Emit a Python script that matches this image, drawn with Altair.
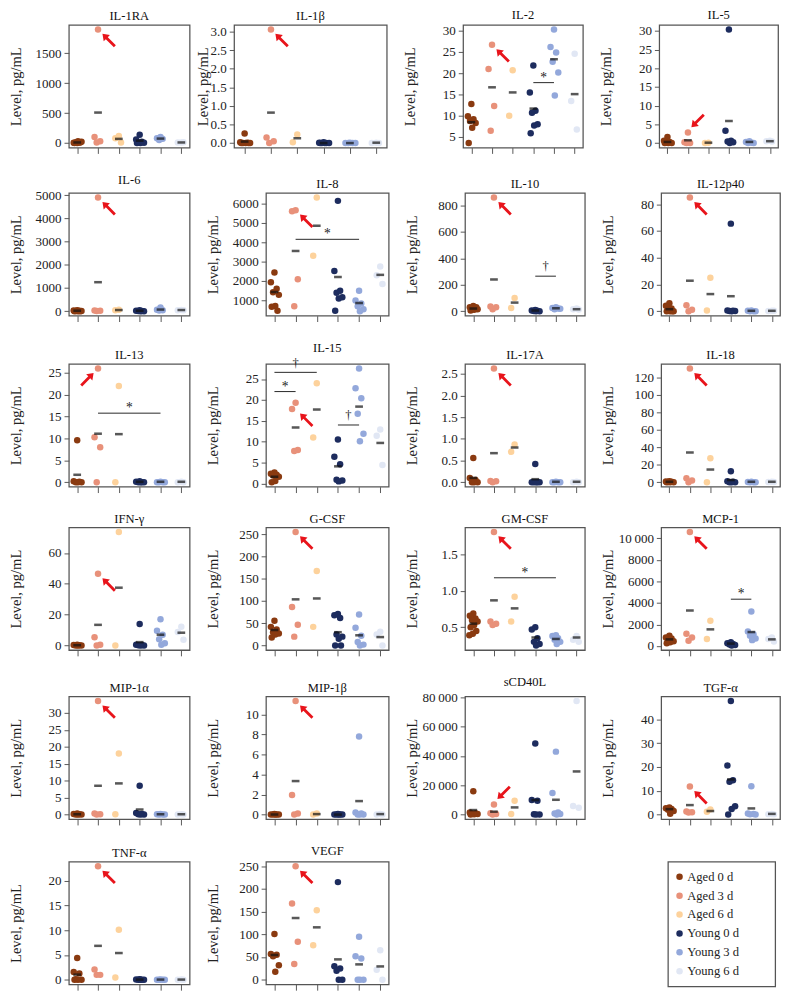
import altair as alt
import pandas as pd

groups = ["Aged 0 d", "Aged 3 d", "Aged 6 d", "Young 0 d", "Young 3 d", "Young 6 d"]
colors = ["#8A3A10", "#E8917A", "#FDD29C", "#1D2C5E", "#93A8DB", "#E1E7F4"]

# ---- values: points per group, group means, tick values ----
il1ra_pts = [[0, 5, 10, 15, 20, 30, 0, 8], [1900, 100, 30, 10], [120, 80, 10],
             [140, 60, 20, 10, 5, 0, 0], [100, 80, 70, 50], [10, 8, 12]]
il1ra_mean = [10, 510, 70, 40, 75, 10]
il1ra_ticks = [0, 500, 1000, 1500]

il1b_pts = [[0.26, 0.02, 0.01, 0, 0, 0, 0, 0], [3.06, 0.15, 0.05, 0.0], [0.23, 0.02],
            [0.02, 0.01, 0, 0, 0, 0, 0], [0.01, 0, 0, 0, 0], [0.01, 0, 0]]
il1b_mean = [0.04, 0.82, 0.13, 0.0, 0.0, 0.01]
il1b_ticks = [0.0, 0.5, 1.0, 1.5, 2.0, 2.5, 3.0]

il2_pts = [[12.8, 9.9, 9.2, 8.8, 8.3, 7.2, 3.6], [26.7, 21.0, 12.3, 6.5], [20.7, 10.0],
           [21.8, 15.5, 11.2, 10.7, 8.0, 7.7, 5.9], [30.3, 26.2, 24.9, 22.7, 20.2, 14.8],
           [24.6, 13.5, 6.8]]
il2_mean = [8.5, 16.7, 15.5, 11.7, 23.3, 15.1]
il2_ticks = [5, 10, 15, 20, 25, 30]
il2_sig = [(4, 5, 17.8, "*")]

il5_pts = [[1.6, 0.6, 0.3, 0.1, 0, 0, 0], [2.8, 0.2, 0, 0], [0.1, 0],
           [30.4, 3.3, 0.6, 0.4, 0.2, 0], [0.5, 0.3, 0.1, 0, 0], [0.6, 0.5, 0.4]]
il5_mean = [0.3, 0.75, 0.1, 5.9, 0.3, 0.5]
il5_ticks = [0, 5, 10, 15, 20, 25, 30]

il6_pts = [[40, 30, 20, 10, 5, 0, 0, 0], [4900, 30, 20, 10], [60, 40],
           [40, 20, 10, 5, 0, 0], [160, 60, 40, 30], [50, 40, 45]]
il6_mean = [20, 1250, 50, 20, 70, 50]
il6_ticks = [0, 1000, 2000, 3000, 4000, 5000]

il8_pts = [[2440, 1940, 1610, 1420, 1290, 720, 680, 470], [5650, 5600, 2090, 700], [6300, 3300],
           [6130, 2520, 1500, 1400, 1170, 1100, 470], [1500, 1000, 850, 700, 550, 450],
           [2750, 2300, 1850]]
il8_mean = [1440, 3550, 4850, 2210, 870, 2320]
il8_ticks = [1000, 2000, 3000, 4000, 5000, 6000]
il8_sig = [(2, 5, 4150, "*")]

il10_pts = [[40, 30, 25, 20, 15, 10, 5, 30], [860, 35, 30, 15], [100, 25],
            [10, 5, 3, 2, 0, 0], [30, 25, 20, 15, 18], [20, 15, 12]]
il10_mean = [20, 240, 65, 5, 22, 15]
il10_ticks = [0, 200, 400, 600, 800]
il10_sig = [(4, 5, 265, "†")]

il12_pts = [[6, 4, 2, 1, 0, 0, 0, 0], [85, 4.5, 1, 0], [25, 0.5],
            [65.5, 0.5, 0.3, 0.2, 0.1, 0], [0.5, 0.3, 0, 0, 0], [0.3, 0.2, 0.4]]
il12_mean = [1.5, 22.8, 12.8, 11.2, 0.3, 0.3]
il12_ticks = [0, 20, 40, 60, 80]

il13_pts = [[9.6, 0.2, 0.1, 0, 0, 0], [26, 10.3, 8.0, 0], [22, 0],
            [0.2, 0.1, 0, 0, 0, 0], [0.1, 0, 0, 0, 0], [0.1, 0, 0]]
il13_mean = [1.7, 11.1, 11.0, 0.1, 0.1, 0.1]
il13_ticks = [0, 5, 10, 15, 20, 25]
il13_sig = [(2, 5, 15.8, "*")]

il15_pts = [[2.6, 2.3, 2.1, 1.9, 1.6, 0.6, 0.3], [19.3, 17.8, 8.0, 7.8], [24.0, 11.0],
            [10.5, 6.4, 4.6, 0.9, 0.7, 0.5], [27.5, 22.8, 20.4, 16.7, 11.9, 10.1],
            [12.9, 11.4, 4.4]]
il15_mean = [1.6, 13.4, 17.7, 4.1, 18.4, 9.7]
il15_ticks = [0, 5, 10, 15, 20, 25]
il15_sig = [(1, 2, 22.0, "*"), (1, 3, 26.6, "†"), (4, 5, 14.0, "†")]

il17_pts = [[0.56, 0.1, 0.05, 0, 0, 0], [2.62, 0.03, 0.02, 0], [0.87, 0.70],
            [0.42, 0, 0, 0, 0, 0], [0.01, 0, 0, 0, 0], [0.01, 0, 0]]
il17_mean = [0.1, 0.67, 0.8, 0.07, 0.01, 0.01]
il17_ticks = [0.0, 0.5, 1.0, 1.5, 2.0, 2.5]

il18_pts = [[1, 0.8, 0.5, 0.3, 0, 0, 0], [130, 4.5, 2, 0], [27.5, 0],
            [12.5, 1, 0.5, 0, 0, 0], [0.5, 0.2, 0, 0, 0], [0.5, 0.3, 0.2]]
il18_mean = [0.5, 34, 14.5, 2.5, 0.5, 0.5]
il18_ticks = [0, 20, 40, 60, 80, 100, 120]

ifng_pts = [[0.5, 0.3, 0.2, 0, 0, 0], [46.5, 5.4, 0.5, 0], [73.7, 0],
            [14, 0.5, 0.3, 0.2, 0, 0], [17, 9.5, 7, 4, 1.5, 0.5], [12.2, 8.8, 3.8]]
ifng_mean = [0.2, 13.4, 37.5, 2.2, 7.0, 8.3]
ifng_ticks = [0, 20, 40, 60]

gcsf_pts = [[55.6, 42, 36, 30, 27, 25, 18], [256, 87, 47, 20], [168, 42],
            [71, 68, 62, 25, 20, 15, 0, 0], [70, 40, 22, 8, 2, 0], [31, 25, 0]]
gcsf_mean = [35, 104, 106, 30, 23, 19]
gcsf_ticks = [0, 50, 100, 150, 200, 250]

gmcsf_pts = [[0.69, 0.66, 0.62, 0.60, 0.58, 0.53, 0.50, 0.45, 0.41, 0.39],
             [1.81, 0.58, 0.55, 0.53], [0.92, 0.58],
             [0.50, 0.47, 0.35, 0.30, 0.27, 0.25], [0.39, 0.38, 0.35, 0.33, 0.30, 0.27],
             [0.38, 0.33, 0.30]]
gmcsf_mean = [0.55, 0.87, 0.76, 0.36, 0.34, 0.36]
gmcsf_ticks = [0.5, 1.0, 1.5]
gmcsf_sig = [(2, 5, 1.18, "*")]

mcp1_pts = [[950, 800, 700, 550, 450, 350, 250], [10600, 1150, 800, 500], [2350, 650],
            [350, 250, 200, 150, 100, 50], [3200, 1350, 1100, 950, 700, 550], [800, 650, 420]]
mcp1_mean = [620, 3300, 1550, 230, 1300, 620]
mcp1_ticks = [0, 2000, 4000, 6000, 8000, 10000]
mcp1_sig = [(4, 5, 4350, "*")]

mip1a_pts = [[0.3, 0.2, 0.1, 0, 0, 0], [33.5, 0.3, 0.1, 0], [18, 0.1],
             [8.5, 0.5, 0.2, 0.1, 0, 0], [0.2, 0.1, 0, 0, 0], [0.1, 0, 0]]
mip1a_mean = [0.1, 8.5, 9.2, 1.5, 0.1, 0.1]
mip1a_ticks = [0, 5, 10, 15, 20, 25, 30]

mip1b_pts = [[0.05, 0, 0, 0, 0, 0], [11.35, 1.95, 0.1, 0], [0.1, 0],
             [0.05, 0, 0, 0, 0, 0], [7.8, 0.2, 0.1, 0, 0, 0], [0.05, 0, 0]]
mip1b_mean = [0.0, 3.35, 0.05, 0.0, 1.35, 0.05]
mip1b_ticks = [0, 2, 4, 6, 8, 10]

scd40l_pts = [[16000, 1500, 1000, 800, 500, 300, 200], [7000, 1000, 500, 100], [9600, 500],
              [48500, 10000, 9500, 300, 200, 100], [43000, 14800, 1500, 800, 500, 200],
              [77500, 6000, 4800]]
scd40l_mean = [3200, 2100, 5000, 10000, 10200, 29500]
scd40l_ticks = [0, 20000, 40000, 60000, 80000]

tgfa_pts = [[3.0, 2.7, 2.4, 2.0, 1.5, 0.4], [11.8, 1.3, 1.0, 0.9], [2.2, 1.2],
            [47.8, 20.7, 14.5, 13.8, 3.5, 2.4, 0], [11.9, 0.5, 0.3, 0.1, 0], [0.3, 0.2, 0.1]]
tgfa_mean = [2.3, 4.0, 1.5, 14.8, 2.6, 0.3]
tgfa_ticks = [0, 10, 20, 30, 40]

tnfa_pts = [[4.4, 1.6, 1.3, 0.1, 0, 0, 0], [22.9, 2.1, 1.0, 1.0], [10.1, 0.45],
            [0.1, 0.05, 0, 0, 0, 0], [0.05, 0, 0, 0, 0], [0.05, 0, 0]]
tnfa_mean = [1.05, 6.85, 5.4, 0.05, 0.05, 0.05]
tnfa_ticks = [0, 5, 10, 15, 20]

vegf_pts = [[101, 57, 55, 52, 32, 18], [250, 168, 84, 35], [153, 76],
            [215, 30, 25, 20, 0, 0], [95, 52, 47, 0, 0, 0], [65, 22, 0]]
vegf_mean = [54.5, 136, 115.5, 45, 34, 29.5]
vegf_ticks = [0, 50, 100, 150, 200, 250]

# (title, points, means, ticks, format, highlighted Aged-3-d value, arrow direction, significance)
panels = [
    ("IL-1RA", il1ra_pts, il1ra_mean, il1ra_ticks, "d", 1900, "ul", []),
    ("IL-1β", il1b_pts, il1b_mean, il1b_ticks, ".1f", 3.06, "ul", []),
    ("IL-2", il2_pts, il2_mean, il2_ticks, "d", 26.7, "ul", il2_sig),
    ("IL-5", il5_pts, il5_mean, il5_ticks, "d", 2.8, "dl", []),
    ("IL-6", il6_pts, il6_mean, il6_ticks, "d", 4900, "ul", []),
    ("IL-8", il8_pts, il8_mean, il8_ticks, "d", 5650, "ul", il8_sig),
    ("IL-10", il10_pts, il10_mean, il10_ticks, "d", 860, "ul", il10_sig),
    ("IL-12p40", il12_pts, il12_mean, il12_ticks, "d", 85, "ul", []),
    ("IL-13", il13_pts, il13_mean, il13_ticks, "d", 26, "ur", il13_sig),
    ("IL-15", il15_pts, il15_mean, il15_ticks, "d", 17.8, "ul", il15_sig),
    ("IL-17A", il17_pts, il17_mean, il17_ticks, ".1f", 2.62, "ul", []),
    ("IL-18", il18_pts, il18_mean, il18_ticks, "d", 130, "ul", []),
    ("IFN-γ", ifng_pts, ifng_mean, ifng_ticks, "d", 46.5, "ul", []),
    ("G-CSF", gcsf_pts, gcsf_mean, gcsf_ticks, "d", 256, "ul", []),
    ("GM-CSF", gmcsf_pts, gmcsf_mean, gmcsf_ticks, ".1f", 1.81, "ul", gmcsf_sig),
    ("MCP-1", mcp1_pts, mcp1_mean, mcp1_ticks, "d", 10600, "ul", mcp1_sig),
    ("MIP-1α", mip1a_pts, mip1a_mean, mip1a_ticks, "d", 33.5, "ul", []),
    ("MIP-1β", mip1b_pts, mip1b_mean, mip1b_ticks, "d", 11.35, "ul", []),
    ("sCD40L", scd40l_pts, scd40l_mean, scd40l_ticks, "d", 7000, "dl", []),
    ("TGF-α", tgfa_pts, tgfa_mean, tgfa_ticks, "d", 11.8, "ul", []),
    ("TNF-α", tnfa_pts, tnfa_mean, tnfa_ticks, "d", 22.9, "ul", []),
    ("VEGF", vegf_pts, vegf_mean, vegf_ticks, "d", 250, "ul", []),
]

FONT = "Liberation Serif"
RED = "#E8141B"
PANEL_H = 127
COL_W = [125, 127, 124, 123]
EXTENT = 44
SPACING = 15
ARROW = "M0,-1L0.5,-0.3L0.16,-0.3L0.16,1L-0.16,1L-0.16,-0.3L-0.5,-0.3Z"
ARROW_STYLE = {"ul": (315, 11, 11), "dl": (225, 10, -12), "ur": (45, -11, 11)}
LABEL_EXPR = ("datum.value >= 10000 ? replace(format(datum.value, ','), ',', '\u2009') "
              ": datum.label")
COLOR = alt.Color("group:N", scale=alt.Scale(domain=groups, range=colors), legend=None)


def make_panel(title, pts, means, ticks, fmt, arrow_val, arrow_dir, sigs, width, extent):
    rows = []
    for gi, vals in enumerate(pts, start=1):
        for k, v in enumerate(vals):
            rows.append({"group": groups[gi - 1], "gi": gi, "k": k, "value": v})
    pdf = pd.DataFrame(rows)
    mdf = pd.DataFrame({"gi": list(range(1, 7)), "mean": means})
    allv = list(pdf["value"]) + list(means) + [s[2] for s in sigs]
    lo, hi = min(allv), max(allv)
    pad = 0.04 * (hi - lo)
    ys = alt.Scale(domain=[lo - pad, hi + pad], nice=False, zero=False)
    xs = alt.Scale(domain=[0.6, 6.4], nice=False, zero=False)
    yax = alt.Axis(values=ticks, format=fmt, labelExpr=LABEL_EXPR, title="Level, pg/mL",
                   grid=False, domain=False, tickSize=5, labelPadding=3, titlePadding=3,
                   minExtent=extent, maxExtent=extent)
    xax = alt.Axis(values=[1, 2, 3, 4, 5, 6], labels=False, title=None, grid=False,
                   domain=False, tickSize=6, minExtent=7, maxExtent=7)

    def X(f):
        return alt.X(f, type="quantitative", scale=xs, axis=xax)

    def Y(f):
        return alt.Y(f, type="quantitative", scale=ys, axis=yax)

    layers = []
    layers.append(
        alt.Chart(pdf)
        .transform_calculate(jx="datum.gi + ((datum.k * 0.618 + 0.5) % 1 - 0.5) * 0.44")
        .mark_circle(size=45, opacity=1)
        .encode(x=X("jx"), y=Y("value"), color=COLOR)
    )
    layers.append(
        alt.Chart(mdf).mark_tick(orient="horizontal", color="#111111", size=8, thickness=2.6)
        .encode(x=X("gi"), y=Y("mean"))
    )
    if sigs:
        sdf = pd.DataFrame({"x1": [s[0] for s in sigs], "x2": [s[1] for s in sigs],
                            "xm": [(s[0] + s[1]) / 2 for s in sigs],
                            "y": [s[2] for s in sigs], "lab": [s[3] for s in sigs]})
        layers.append(
            alt.Chart(sdf).mark_rule(color="#222222", strokeWidth=1)
            .encode(x=X("x1"), x2="x2", y=Y("y"))
        )
        star = sdf[sdf["lab"] == "*"]
        dag = sdf[sdf["lab"] != "*"]
        if len(star):
            layers.append(
                alt.Chart(star).mark_text(font=FONT, fontSize=14, baseline="alphabetic",
                                          dy=-1, color="#222222", fill="#222222")
                .encode(x=X("xm"), y=Y("y"), text="lab")
            )
        if len(dag):
            layers.append(
                alt.Chart(dag).mark_text(font=FONT, fontSize=13, baseline="alphabetic",
                                         dy=-6, color="#222222", fill="#222222")
                .encode(x=X("xm"), y=Y("y"), text="lab")
            )
    ang, ox, oy = ARROW_STYLE[arrow_dir]
    adf = pd.DataFrame({"gi": [2], "v": [arrow_val]})
    layers.append(
        alt.Chart(adf).mark_point(shape=ARROW, filled=True, color=RED, fill=RED, opacity=1,
                                  strokeWidth=0, size=330, angle=ang, xOffset=ox, yOffset=oy)
        .encode(x=X("gi"), y=Y("v"))
    )
    return alt.layer(*layers).properties(
        width=width, height=PANEL_H,
        title=alt.TitleParams(title, font=FONT, fontSize=13, fontWeight="normal",
                              color="#111111", offset=2))


charts = []
for i, p in enumerate(panels):
    col = i % 4
    w = COL_W[col]
    ext = EXTENT
    if p[0] == "IL-1β":
        w, ext = 158, 22
    charts.append(make_panel(*p, width=w, extent=ext))

# legend panel (drawn from the group list through a point scale)
gdf = pd.DataFrame({"group": groups})
LEG_Y = alt.Y("group:N", scale=alt.Scale(domain=groups, type="point", padding=0.8),
              axis=alt.Axis(labels=False, ticks=False, domain=False, title=None,
                            minExtent=72, maxExtent=72))
leg_dots = alt.Chart(gdf).mark_circle(size=45, opacity=1).encode(
    x=alt.value(12), y=LEG_Y, color=COLOR)
leg_text = alt.Chart(gdf).mark_text(font=FONT, fontSize=13, align="left", baseline="middle",
                                    color="#222222").encode(
    x=alt.value(20), y=LEG_Y, text="group:N")
legend_box = alt.layer(leg_dots, leg_text).properties(
    width=111, height=PANEL_H + 2,
    title=alt.TitleParams(" ", font=FONT, fontSize=13, offset=0))

spacer = (alt.Chart(gdf).mark_point(opacity=0)
          .encode(y=alt.Y("group:N", axis=None))
          .properties(width=185, height=PANEL_H, view=alt.ViewBackground(strokeOpacity=0)))

rows = [alt.hconcat(charts[0], alt.hconcat(*charts[1:4], spacing=SPACING), spacing=4)]
for r in range(1, 5):
    rows.append(alt.hconcat(*charts[4 * r:4 * r + 4], spacing=SPACING))
rows.append(alt.hconcat(charts[20], charts[21], spacer, legend_box, spacing=SPACING))

chart = (
    alt.vconcat(*rows, spacing=18)
    .properties(padding={"left": 0, "top": -17, "right": 0, "bottom": 0})
    .configure_view(stroke="#555555", strokeWidth=1.3)
    .configure_axis(labelFont=FONT, titleFont=FONT, labelFontSize=13.5, titleFontSize=15,
                    labelColor="#222222", titleColor="#222222", tickColor="#555555",
                    titleFontWeight="normal")
)

chart.save("out.html", embed_options={"renderer": "svg", "actions": False})
